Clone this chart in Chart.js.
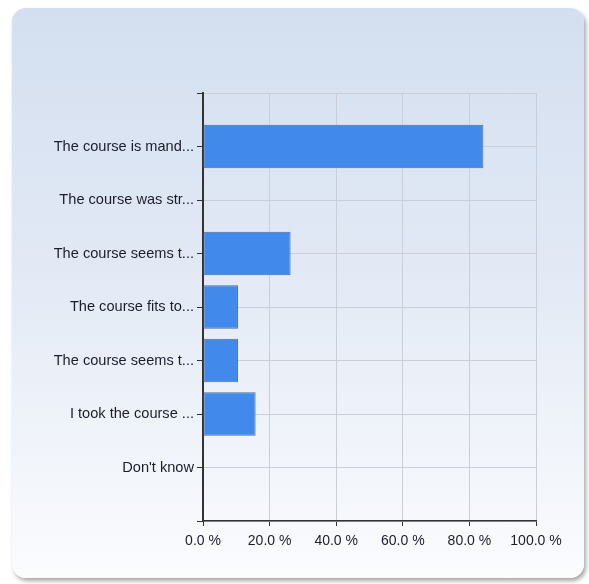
<!DOCTYPE html>
<html>
<head>
<meta charset="utf-8">
<script src="https://cdn.jsdelivr.net/npm/chart.js@4.4.0/dist/chart.umd.min.js"></script>
<style>
  html, body { margin: 0; padding: 0; background: #fff; }
  #panel {
    position: absolute; left: 12px; top: 8px; width: 572px; height: 570px;
    border-radius: 14px;
    background: linear-gradient(to bottom, #d3dff0 0%, #e2e9f5 45%, #fbfcfe 100%);
    box-shadow: 2px 3px 4px rgba(0,0,0,0.35);
  }
  #mycanvas { position: absolute; left: 0; top: 0; }
</style>
</head>
<body>
<div id="panel"></div>
<canvas id="mycanvas" width="589" height="584"></canvas>
<script>
// answer options, shortened the way the survey tool prints them
var answers = [
  'The course is mand...',
  'The course was str...',
  'The course seems t...',
  'The course fits to...',
  'The course seems t...',
  'I took the course ...',
  "Don't know"
];
// share of respondents per answer, in percent
var shares = [84.2, 0, 26.3, 10.5, 10.5, 15.8, 0];
var percentTicks = [0, 20, 40, 60, 80, 100];

// blank slot above and below the answers so the grid has a free row at each end
var labels = [''].concat(answers, ['']);
var values = [null].concat(shares, [null]);

var ctx = document.getElementById('mycanvas');
new Chart(ctx, {
  type: 'bar',
  data: {
    labels: labels,
    datasets: [{
      data: values,
      backgroundColor: '#418aec',
      borderColor: '#4d6c9c',
      borderWidth: 1,
      borderSkipped: false,
      categoryPercentage: 1,
      barPercentage: 0.81
    }]
  },
  options: {
    indexAxis: 'y',
    responsive: false,
    animation: false,
    devicePixelRatio: 1,
    layout: { padding: { left: 0, right: 53, top: 93, bottom: 33 } },
    plugins: { legend: { display: false }, tooltip: { enabled: false } },
    scales: {
      x: {
        type: 'linear',
        min: 0, max: 100,
        afterBuildTicks: function(scale) {
          scale.ticks = percentTicks.map(function(v) { return { value: v }; });
        },
        afterFit: function(scale) { scale.height = 30; },
        grid: { color: '#c9ced8', lineWidth: 1, tickLength: 5, tickColor: '#333' },
        border: { color: '#333', width: 1.5 },
        ticks: {
          padding: 7,
          color: '#1c1c2c',
          font: { family: 'Liberation Sans, Arial', size: 14 },
          callback: function(v) { return v.toFixed(1) + ' %'; }
        }
      },
      y: {
        type: 'category',
        offset: false,
        afterFit: function(scale) { scale.width = 203; },
        grid: { offset: false, color: '#c9ced8', lineWidth: 1, tickLength: 6, tickColor: '#333' },
        border: { color: '#333', width: 2 },
        ticks: {
          padding: 3,
          color: '#1c1c2c',
          autoSkip: false,
          font: { family: 'Liberation Sans, Arial', size: 14.6 }
        }
      }
    }
  }
});
</script>
</body>
</html>
